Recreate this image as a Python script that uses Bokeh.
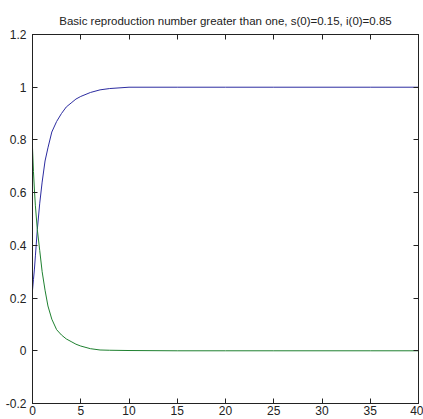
from bokeh.plotting import figure
from bokeh.models import LinearAxis, FixedTicker, CustomJSTickFormatter, Range1d, Title
from bokeh.embed import file_html
from bokeh.resources import INLINE

title_text = "Basic reproduction number greater than one, s(0)=0.15, i(0)=0.85"
t = [0, 0.1, 0.2, 0.3, 0.5, 0.75, 1.0, 1.3, 1.6, 2.0, 2.5, 3.0, 3.5, 4.0, 4.5, 5.0,
     6.0, 7.0, 8.0, 10, 15, 20, 25, 30, 35, 40]
s_vals = [0.23, 0.27, 0.31, 0.36, 0.46, 0.56, 0.64, 0.72, 0.77, 0.83, 0.87, 0.90,
          0.925, 0.94, 0.955, 0.965, 0.98, 0.99, 0.995, 1.0, 1.0, 1.0, 1.0, 1.0, 1.0, 1.0]
i_vals = [0.77, 0.68, 0.61, 0.55, 0.46, 0.38, 0.30, 0.23, 0.17, 0.12, 0.08, 0.06,
          0.045, 0.035, 0.025, 0.018, 0.008, 0.003, 0.002, 0.001, 0.0, 0.0, 0.0, 0.0, 0.0, 0.0]
x_ticks = [0, 5, 10, 15, 20, 25, 30, 35, 40]
y_ticks = [-0.2, 0, 0.2, 0.4, 0.6, 0.8, 1.0, 1.2]

FONT = "Liberation Sans"

p = figure(width=423, height=419, output_backend="svg", toolbar_location=None,
           x_range=Range1d(0, 40), y_range=Range1d(-0.2, 1.2),
           min_border_left=32, min_border_right=5, min_border_top=34, min_border_bottom=16,
           x_axis_location=None, y_axis_location=None)
p.background_fill_color = "white"
p.border_fill_color = "white"
p.grid.visible = False
p.outline_line_color = "#222222"
p.outline_line_width = 1

fmt = CustomJSTickFormatter(code="return String(Math.round(tick*10)/10);")
blank = CustomJSTickFormatter(code="return '';")

def style(ax):
    ax.axis_line_color = "#222222"
    ax.major_tick_in = 5
    ax.major_tick_out = 0
    ax.minor_tick_in = 0
    ax.minor_tick_out = 0
    ax.major_tick_line_color = "#222222"
    ax.major_label_text_font = FONT
    ax.major_label_text_font_size = "12px"
    ax.major_label_text_color = "#222222"

xb = LinearAxis(ticker=FixedTicker(ticks=x_ticks), formatter=fmt)
style(xb)
xb.major_label_standoff = 2
p.add_layout(xb, "below")
yl = LinearAxis(ticker=FixedTicker(ticks=y_ticks), formatter=fmt)
style(yl)
yl.major_label_standoff = 6
p.add_layout(yl, "left")
xt = LinearAxis(ticker=FixedTicker(ticks=x_ticks), formatter=blank)
style(xt)
xt.major_label_standoff = 0
p.add_layout(xt, "above")
yr = LinearAxis(ticker=FixedTicker(ticks=y_ticks), formatter=blank)
style(yr)
yr.major_label_standoff = 0
p.add_layout(yr, "right")

ttl = Title(text=title_text, align="center", text_font=FONT, text_font_size="11.5px",
            text_font_style="normal", text_color="#222222", standoff=15)
p.add_layout(ttl, "above")

p.line(t, s_vals, line_color="#2c2ca0", line_width=1)
p.line(t, i_vals, line_color="#1f8030", line_width=1)

open("out.html", "w").write(file_html(p, INLINE))
